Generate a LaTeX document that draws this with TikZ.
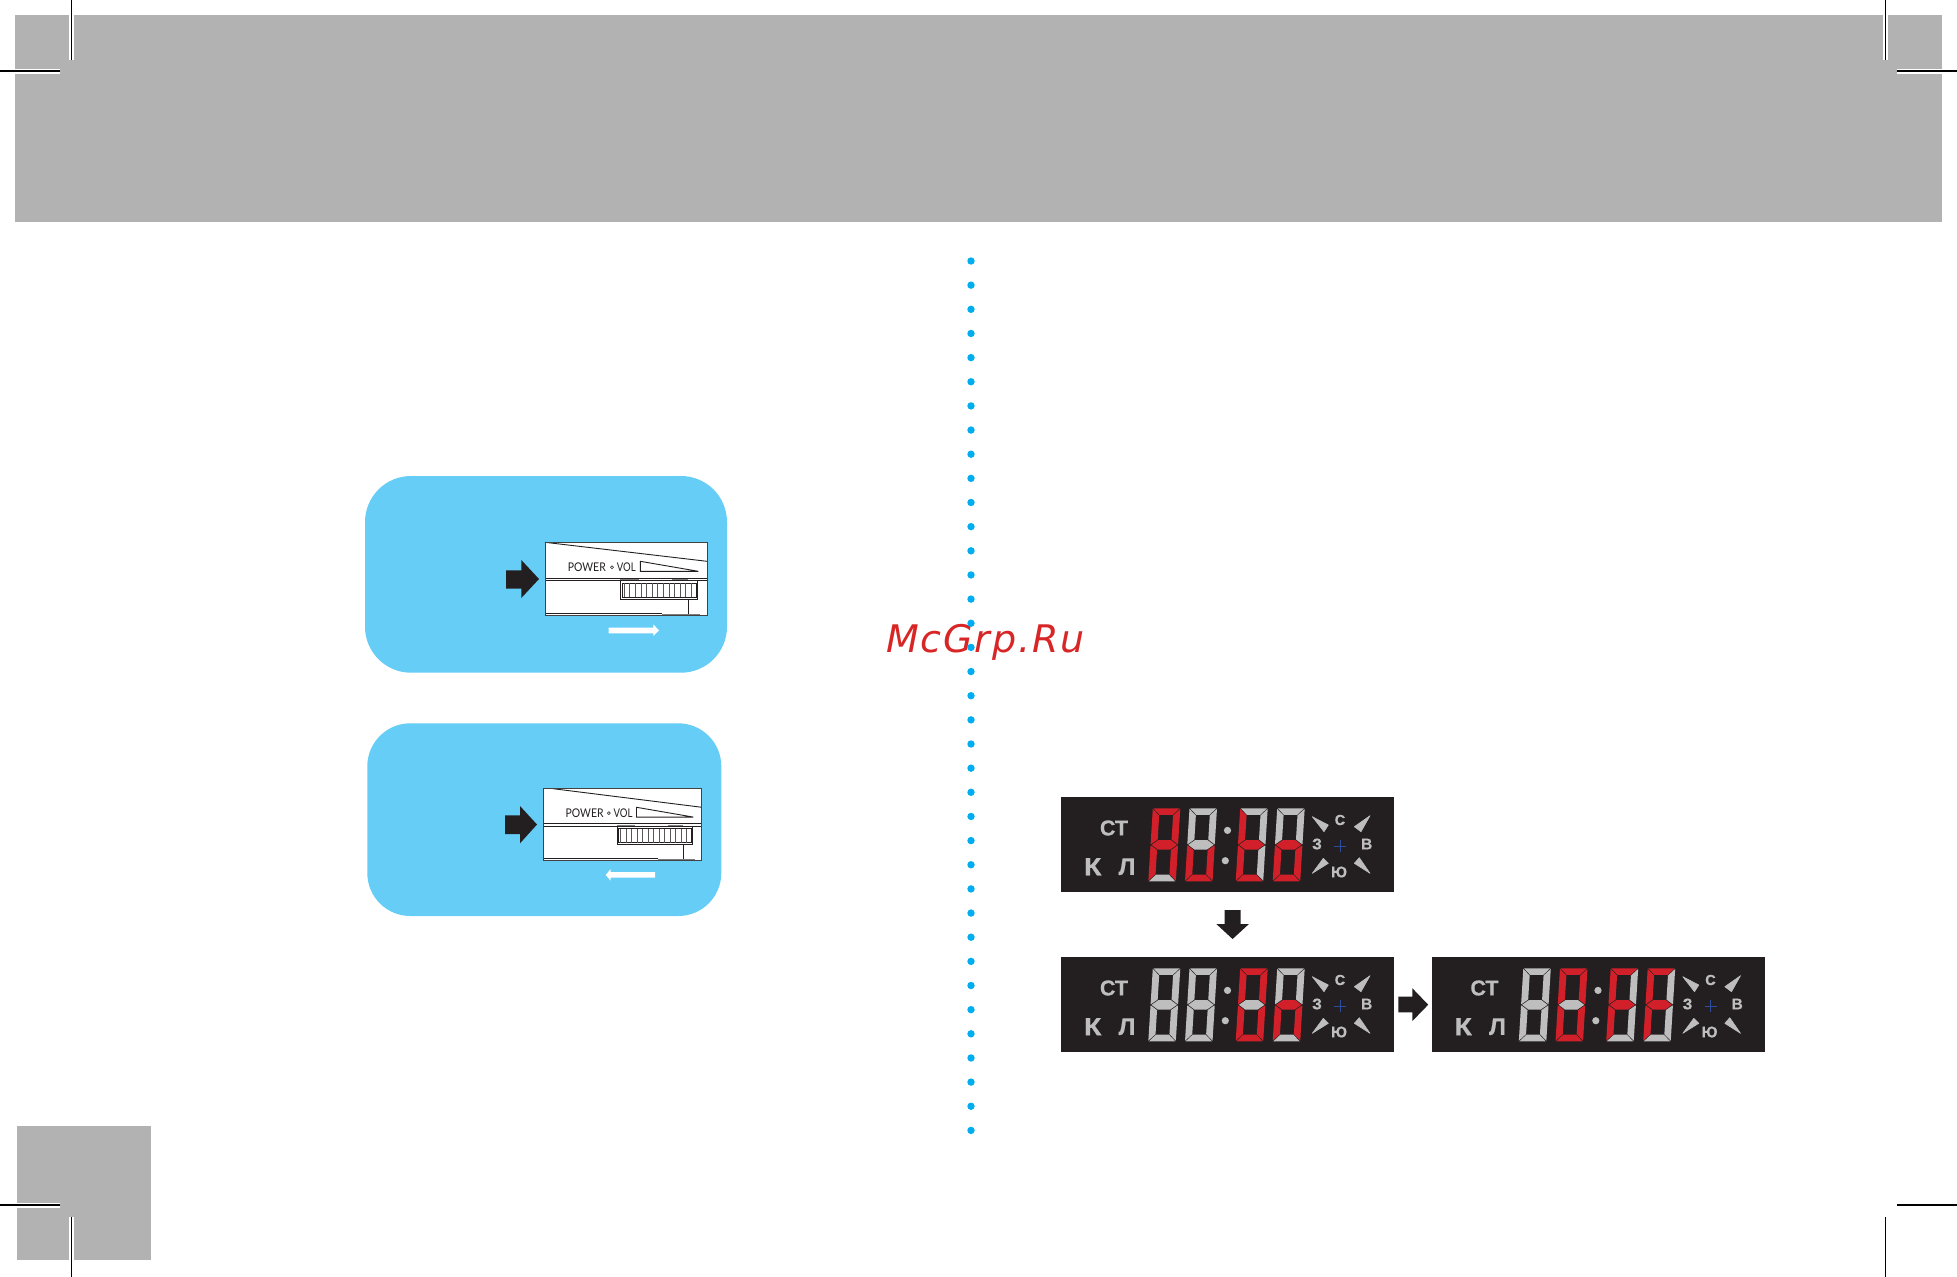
\documentclass[tikz,border=0pt]{standalone}
\usepackage{fontspec}
\setmainfont{Liberation Sans}
\newfontfamily\wmfont{DejaVu Sans}
\newfontfamily\devfont{Lato}
\newfontfamily\lcdfont[UprightFont=* Bold,FakeBold=0.5]{Liberation Sans}
\definecolor{pagegrey}{HTML}{B2B2B2}
\definecolor{skyfill}{HTML}{66CDF6}
\definecolor{inkdark}{HTML}{231F20}
\definecolor{dotblue}{HTML}{00AEEF}
\definecolor{sr}{HTML}{D2202A}
\definecolor{sg}{HTML}{BEBEBE}
\definecolor{wmred}{HTML}{D82626}
\definecolor{crossblue}{HTML}{2E4C9E}
\tikzset{
  halo/.style={white,line width=5pt},
  cropline/.style={black,line width=1.1pt},
  lcdtext/.style={text=sg,font=\lcdfont,inner sep=0pt},
  wedge/.style={fill=sg,draw=sg,line width=0.6pt,line join=round},
  devline/.style={draw=inkdark,line width=0.9pt},
  devtext/.style={text=inkdark,inner sep=0pt,anchor=base west}
}
% one seven-segment digit: x, then colours T UL UR M LL LR B
\newcommand\dgt[8]{%
  \begin{scope}[shift={(#1,11.3)},xslant=0.0616]
    \fill[#2] (0.6,0) -- (26.9,0) -- (20.3,6.6) -- (7.2,6.6) -- cycle;
    \fill[#3] (0,0.6) -- (6.8,7.2) -- (6.8,31.2) -- (0.5,35.8) -- (0,35.8) -- cycle;
    \fill[#4] (27.5,0.6) -- (20.7,7.2) -- (20.7,31.2) -- (27,35.8) -- (27.5,35.8) -- cycle;
    \fill[#5] (1,36.5) -- (7.5,31.8) -- (20,31.8) -- (26.5,36.5) -- (20,41.2) -- (7.5,41.2) -- cycle;
    \fill[#6] (0,37.2) -- (0.5,37.2) -- (6.8,41.8) -- (6.8,65.8) -- (0,72.4) -- cycle;
    \fill[#7] (27.5,37.2) -- (27,37.2) -- (20.7,41.8) -- (20.7,65.8) -- (27.5,72.4) -- cycle;
    \fill[#8] (0.6,73) -- (26.9,73) -- (20.3,66.4) -- (7.2,66.4) -- cycle;
  \end{scope}}
% panel furniture
\newcommand\lcdbase[1]{%
  \fill[inkdark] (0,0) rectangle (333,95);
  \fill[sg] (166.5,33.4) circle (3.6);
  \fill[sg] (164.3,63.7) circle (3.6);
  \path[wedge] (251.3,19.7) -- (267.3,28) -- (263,34.7) -- cycle;
  \path[wedge] (309,18.7) -- (293.3,29.7) -- (300,34.7) -- cycle;
  \path[wedge] (251.3,76.3) -- (262.3,61.3) -- (267.3,66.3) -- cycle;
  \path[wedge] (309,76.3) -- (293.3,66.3) -- (298.3,60.7) -- cycle;
  \draw[crossblue,line width=0.8pt] (273,49) -- (285,49) (279,43) -- (279,55);
  \node[lcdtext] (#1st) at (53,31) {\fontsize{21.5}{23}\selectfont СТ};
  \node[lcdtext,xscale=1.15] (#1k) at (31.7,69.7) {\fontsize{25}{27}\selectfont К};
  \node[lcdtext] (#1l) at (66,69.7) {\fontsize{24}{26}\selectfont Л};
  \node[lcdtext] (#1n) at (279,23) {\fontsize{14.5}{16}\selectfont С};
  \node[lcdtext] (#1e) at (305.7,47) {\fontsize{15.5}{17}\selectfont В};
  \node[lcdtext] (#1w) at (256,47) {\fontsize{15.5}{17}\selectfont З};
  \node[lcdtext] (#1s) at (278,75) {\fontsize{15.5}{17}\selectfont Ю};
}
% device picture: name, x, y, scale, diagonal start, font size
\newcommand\devbox[6]{%
  \begin{scope}[shift={(#2,#3)},scale=#4]
    \fill[white] (0,0) rectangle (162,73.4);
    \draw[devline,line width=0.9pt] (#5,0) -- (162,19);
    \draw[devline] (95.3,19) -- (95.3,29) -- (153.3,29) -- cycle;
    \draw[inkdark,line width=1pt] (0,36) -- (162,36);
    \draw[inkdark,line width=0.7pt] (0,38) -- (75.3,38) (152.3,38) -- (162,38);
    \fill[pagegrey!70!black] (75.3,36.6) rectangle (94,38.6);
    \fill[pagegrey!70!black] (127,36.6) rectangle (143,38.6);
    \draw[inkdark,line width=0.8pt] (75.3,38.4) rectangle (152.3,57);
    \draw[inkdark,line width=0.7pt] (77,41) rectangle (151,55);
    \foreach \i in {0,...,12} {\draw[inkdark!75,line width=0.6pt] ({79+5.6*\i},41) -- ({79+5.6*\i},55);}
    \draw[inkdark,line width=0.7pt] (143.3,57) -- (143.3,73.4);
    \draw[inkdark,line width=1pt] (0,71.4) -- (117,71.4);
    \draw[pagegrey!70!black,line width=1pt] (117,71.9) -- (155,71.9);
    \draw[inkdark!85,line width=1pt] (0,0) rectangle (162,73.4);
    \fill[inkdark] (67,25) circle (1.9);
    \fill[white] (67,25) circle (0.9);
    \node[devtext,xscale=0.87] (#1p) at (22.7,29.6) {\fontsize{#6}{#6}\devfont POWER};
    \node[devtext,xscale=0.80] (#1v) at (71.7,29.6) {\fontsize{#6}{#6}\devfont VOL};
  \end{scope}}
\begin{document}
\begin{tikzpicture}[x=1pt,y=-1pt]
\useasboundingbox (0,0) rectangle (1957,1277);
% grey bands
\fill[pagegrey] (15,15) rectangle (1942,222);
\fill[pagegrey] (17,1126) rectangle (151,1260);
% crop marks
\draw[halo] (71.3,0) -- (71.3,60) (0,71) -- (60,71);
\draw[halo] (1885.7,0) -- (1885.7,60) (1897,71) -- (1957,71);
\draw[halo] (0,1205) -- (60,1205) (71.3,1217) -- (71.3,1277);
\draw[cropline] (71.3,0) -- (71.3,60) (0,71) -- (60,71);
\draw[cropline] (1885.7,0) -- (1885.7,60) (1897,71) -- (1957,71);
\draw[cropline] (0,1205) -- (60,1205) (71.3,1217) -- (71.3,1277);
\draw[cropline] (1885.7,1217) -- (1885.7,1277) (1897,1205) -- (1957,1205);
% watermark
\node[text=wmred,inner sep=0pt,anchor=base west] (wm) at (886,652.3)
  {\fontsize{38}{40}\selectfont\wmfont\addfontfeature{LetterSpace=4.8}\itshape McGrp.Ru};
% dotted rule
\foreach \i in {0,...,36} {\fill[dotblue] (971,{261+24.15*\i}) circle (3.7);}
% sky panels
\fill[skyfill,rounded corners=46pt] (365,476) rectangle (727,672.7);
\fill[skyfill,rounded corners=43pt] (367.3,723.3) rectangle (721.3,916);
\devbox{da}{545}{542.3}{1}{0}{12}
\devbox{db}{543.3}{788.7}{0.978}{10}{12}
% black pointers
\fill[inkdark] (506,570.3) -- (521.3,570.3) -- (521.3,560) -- (539,579) -- (521.3,598) -- (521.3,588.7) -- (506,588.7) -- cycle;
\fill[inkdark] (505,815.3) -- (520,815.3) -- (520,806) -- (537,824.5) -- (520,843.3) -- (520,834) -- (505,834) -- cycle;
% white pointers
\fill[white] (608.7,627.7) -- (653.3,627.7) -- (653.3,624.3) -- (659,630.5) -- (653.3,636) -- (653.3,633.3) -- (608.7,633.3) -- cycle;
\fill[white] (655,872) -- (610.7,872) -- (610.7,869) -- (605.7,875) -- (610.7,880.7) -- (610.7,877.7) -- (655,877.7) -- cycle;
% LCD panels
\begin{scope}[shift={(1061,797)}]
  \lcdbase{a}
  \dgt{91.8}{sr}{sr}{sr}{sr}{sr}{sr}{sg}
  \dgt{128.5}{sg}{sg}{sg}{sg}{sr}{sr}{sr}
  \dgt{179.2}{sg}{sr}{sg}{sr}{sr}{sg}{sr}
  \dgt{216.2}{sg}{sg}{sg}{sr}{sr}{sr}{sr}
\end{scope}
\begin{scope}[shift={(1061,957)}]
  \lcdbase{b}
  \dgt{91.8}{sg}{sg}{sg}{sg}{sg}{sg}{sg}
  \dgt{128.5}{sg}{sg}{sg}{sg}{sg}{sg}{sg}
  \dgt{179.2}{sr}{sr}{sr}{sg}{sr}{sr}{sr}
  \dgt{216.2}{sg}{sg}{sg}{sr}{sr}{sr}{sg}
\end{scope}
\begin{scope}[shift={(1431.5,957)}]
  \lcdbase{c}
  \dgt{91.8}{sg}{sg}{sg}{sg}{sg}{sg}{sg}
  \dgt{128.5}{sr}{sr}{sr}{sg}{sr}{sr}{sr}
  \dgt{179.2}{sr}{sr}{sg}{sr}{sr}{sg}{sg}
  \dgt{216.2}{sr}{sr}{sg}{sr}{sr}{sg}{sg}
\end{scope}
% flow pointers between panels
\fill[inkdark] (1224.7,910) -- (1240.5,910) -- (1240.5,924) -- (1248.9,924) -- (1232.6,939) -- (1216.3,924) -- (1224.7,924) -- cycle;
\fill[inkdark] (1398.4,996.7) -- (1412.4,996.7) -- (1412.4,988.3) -- (1428.2,1004.7) -- (1412.4,1021) -- (1412.4,1012.3) -- (1398.4,1012.3) -- cycle;
\end{tikzpicture}
\end{document}
